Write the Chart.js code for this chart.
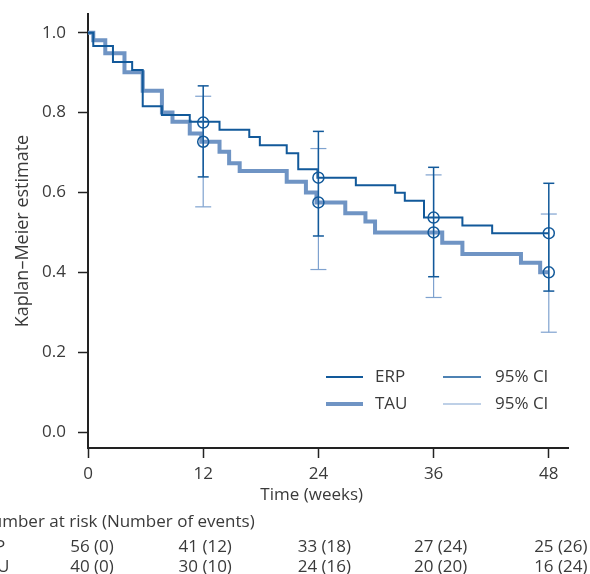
<!DOCTYPE html>
<html>
<head>
<meta charset="utf-8">
<script src="https://cdn.jsdelivr.net/npm/chart.js@4.4.1/dist/chart.umd.min.js"></script>
<style>
  body { margin: 0; background: #fff; }
  #wrap { width: 590px; height: 574px; }
</style>
</head>
<body>
<div id="wrap"><canvas id="km" width="590" height="574"></canvas></div>
<script>
// Kaplan-Meier curves: week of each drop and the estimate after it
let erpTimes = [0, 0.55, 2.6, 4.6, 5.7, 7.7, 10.6, 13.7, 16.8, 17.9, 20.7, 21.9, 23.9, 27.9, 32.0, 33.0, 35.0, 39.0, 42.1, 48];
let erpSurv = [1.0, 0.967, 0.927, 0.907, 0.816, 0.794, 0.777, 0.757, 0.739, 0.718, 0.698, 0.658, 0.637, 0.618, 0.599, 0.579, 0.537, 0.517, 0.498, 0.498];
let tauTimes = [0, 0.55, 1.8, 3.8, 5.7, 7.7, 8.8, 10.6, 11.8, 13.7, 14.7, 15.8, 20.7, 22.7, 23.8, 26.8, 28.9, 29.9, 36.9, 39.0, 45.1, 47.1, 48];
let tauSurv = [1.0, 0.981, 0.949, 0.901, 0.855, 0.800, 0.777, 0.748, 0.727, 0.702, 0.673, 0.654, 0.627, 0.600, 0.575, 0.548, 0.527, 0.500, 0.474, 0.446, 0.424, 0.400, 0.400];

// estimates and 95% CI at the marked weeks
let markWeeks = [12, 24, 36, 48];
let erpMark = [0.775, 0.637, 0.537, 0.498];
let erpLower = [0.639, 0.491, 0.389, 0.353];
let erpUpper = [0.867, 0.753, 0.663, 0.623];
let tauMark = [0.727, 0.575, 0.500, 0.400];
let tauLower = [0.564, 0.407, 0.337, 0.250];
let tauUpper = [0.841, 0.710, 0.644, 0.546];

// axis ticks
let xTicks = [0, 12, 24, 36, 48];
let yTicks = [0, 0.2, 0.4, 0.6, 0.8, 1.0];

// number at risk (number of events) table
let riskWeeks = [0, 12, 24, 36, 48];
let erpAtRisk = [56, 41, 33, 27, 25];
let erpEvents = [0, 12, 18, 24, 26];
let tauAtRisk = [40, 30, 24, 20, 16];
let tauEvents = [0, 10, 16, 20, 24];

const erpColor = '#12599a';
const tauColor = '#6f94c4';
const tauCiColor = '#7fa2cf';
const textColor = '#3a3a3a';
const axisColor = '#222222';
const fontFamily = '"Open Sans", "Noto Sans", sans-serif';

// turn two arrays into {x, y} points:
function toPoints(xs, ys) {
  return xs.map((x, i) => ({ x: x, y: ys[i] }));
}

// vertical CI bars, each broken off from the next by a null point:
function ciPoints(lower, upper) {
  let pts = [];
  for (let i = 0; i < markWeeks.length; i++) {
    pts.push({ x: markWeeks[i], y: lower[i] });
    pts.push({ x: markWeeks[i], y: upper[i] });
    pts.push({ x: markWeeks[i], y: null });
  }
  return pts;
}

// legend drawn by hand, two columns like the original:
const legendPlugin = {
  id: 'kmLegend',
  afterDraw(chart) {
    const ctx = chart.ctx;
    const rows = [
      { y: 377, label: 'ERP', color: erpColor, width: 2, ciColor: erpColor, ciWidth: 1.5 },
      { y: 404, label: 'TAU', color: tauColor, width: 4, ciColor: tauCiColor, ciWidth: 1.2 }
    ];
    ctx.save();
    ctx.font = '17px ' + fontFamily;
    ctx.textBaseline = 'middle';
    ctx.fillStyle = textColor;
    for (let r of rows) {
      ctx.strokeStyle = r.color;
      ctx.lineWidth = r.width;
      ctx.beginPath();
      ctx.moveTo(326, r.y);
      ctx.lineTo(363, r.y);
      ctx.stroke();
      ctx.fillText(r.label, 375, r.y);
      ctx.strokeStyle = r.ciColor;
      ctx.lineWidth = r.ciWidth;
      ctx.beginPath();
      ctx.moveTo(443, r.y);
      ctx.lineTo(481, r.y);
      ctx.stroke();
      ctx.fillText('95% CI', 495, r.y);
    }
    ctx.restore();
  }
};

// x axis title and the number-at-risk table under the x axis:
const riskPlugin = {
  id: 'riskTable',
  afterDraw(chart) {
    const ctx = chart.ctx;
    const xScale = chart.scales.x;
    // small shifts of each column from its tick, as in the original
    const shift = [4, 2, 6, 7, 12];
    ctx.save();
    ctx.font = '17px ' + fontFamily;
    ctx.textBaseline = 'middle';
    ctx.fillStyle = textColor;
    ctx.textAlign = 'center';
    ctx.fillText('Time (weeks)', xScale.getPixelForValue(23.3), 495);
    ctx.textAlign = 'left';
    ctx.fillText('Number at risk (Number of events)', -21, 522);
    ctx.fillText('ERP', -25, 547);
    ctx.fillText('TAU', -23, 567);
    ctx.textAlign = 'center';
    for (let i = 0; i < riskWeeks.length; i++) {
      let x = xScale.getPixelForValue(riskWeeks[i]) + shift[i];
      ctx.fillText(erpAtRisk[i] + ' (' + erpEvents[i] + ')', x, 547);
      ctx.fillText(tauAtRisk[i] + ' (' + tauEvents[i] + ')', x, 567);
    }
    ctx.restore();
  }
};

const data = {
  datasets: [
    {
      label: 'ERP at marks',
      data: toPoints(markWeeks, erpMark),
      showLine: false,
      pointStyle: 'circle',
      pointRadius: 5.5,
      pointBackgroundColor: 'rgba(0,0,0,0)',
      pointBorderColor: erpColor,
      pointBorderWidth: 1.5
    },
    {
      label: 'TAU at marks',
      data: toPoints(markWeeks, tauMark),
      showLine: false,
      pointStyle: 'circle',
      pointRadius: 5.5,
      pointBackgroundColor: 'rgba(0,0,0,0)',
      pointBorderColor: erpColor,
      pointBorderWidth: 1.5
    },
    {
      label: 'ERP 95% CI',
      data: ciPoints(erpLower, erpUpper),
      borderColor: erpColor,
      borderWidth: 1.5,
      spanGaps: false,
      pointStyle: 'line',
      pointRadius: 5.5,
      pointBorderColor: erpColor,
      pointBorderWidth: 1.5
    },
    {
      label: 'TAU 95% CI',
      data: ciPoints(tauLower, tauUpper),
      borderColor: tauCiColor,
      borderWidth: 1.2,
      spanGaps: false,
      pointStyle: 'line',
      pointRadius: 8,
      pointBorderColor: tauCiColor,
      pointBorderWidth: 1.2
    },
    {
      label: 'ERP',
      data: toPoints(erpTimes, erpSurv),
      stepped: 'before',
      borderColor: erpColor,
      borderWidth: 2,
      pointRadius: 0
    },
    {
      label: 'TAU',
      data: toPoints(tauTimes, tauSurv),
      stepped: 'before',
      borderColor: tauColor,
      borderWidth: 4,
      pointRadius: 0
    }
  ]
};

const config = {
  type: 'line',
  data: data,
  options: {
    responsive: false,
    animation: false,
    layout: {
      padding: { left: 0, top: 14, right: 22, bottom: 66 }
    },
    plugins: {
      legend: { display: false },
      tooltip: { enabled: false }
    },
    scales: {
      x: {
        type: 'linear',
        min: 0,
        max: 50,
        afterFit: (scale) => { scale.height = 60; },
        afterBuildTicks: (scale) => { scale.ticks = xTicks.map(v => ({ value: v })); },
        grid: { drawOnChartArea: false, drawTicks: true, tickLength: 10, tickColor: axisColor, tickWidth: 1.5 },
        border: { display: true, color: axisColor, width: 2 },
        ticks: {
          color: textColor,
          padding: 6,
          maxRotation: 0,
          font: { family: fontFamily, size: 17 }
        }
      },
      y: {
        type: 'linear',
        min: -0.04,
        max: 1.047,
        afterFit: (scale) => {
          scale.width = 88;
          // no extra room for the top label, the axis starts right at the padding
          scale.paddingTop = 0;
          scale.paddingBottom = 0;
        },
        afterBuildTicks: (scale) => { scale.ticks = yTicks.map(v => ({ value: v })); },
        grid: { drawOnChartArea: false, drawTicks: true, tickLength: 10, tickColor: axisColor, tickWidth: 1.5 },
        border: { display: true, color: axisColor, width: 2 },
        ticks: {
          color: textColor,
          padding: 12,
          font: { family: fontFamily, size: 17 },
          callback: (v) => Number(v).toFixed(1)
        },
        title: {
          display: true,
          text: 'Kaplan–Meier estimate',
          color: textColor,
          padding: { top: 12, bottom: 0 },
          font: { family: fontFamily, size: 18 }
        }
      }
    }
  },
  plugins: [legendPlugin, riskPlugin]
};

let chart = new Chart(document.getElementById('km'), config);
</script>
</body>
</html>
